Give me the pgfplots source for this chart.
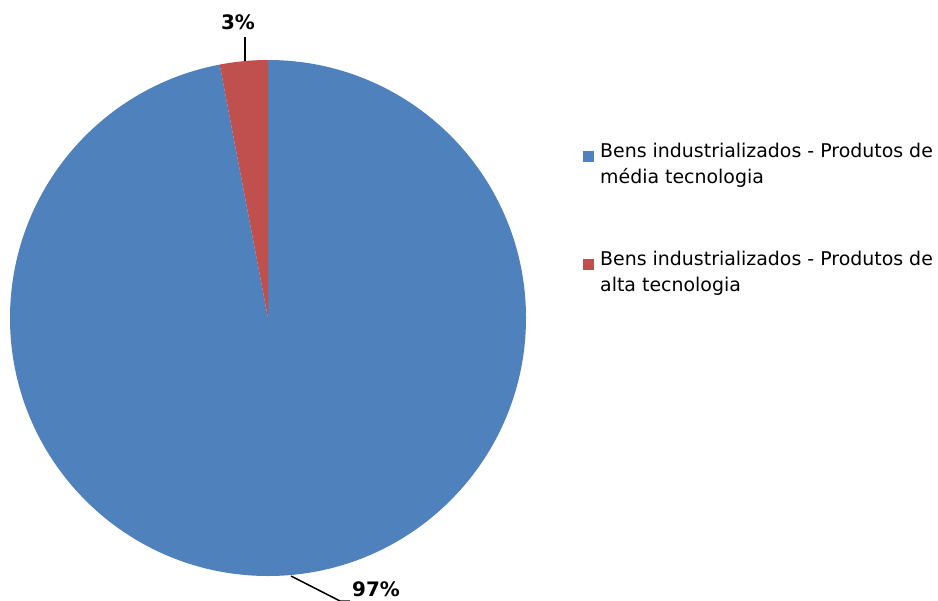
\documentclass[border=0pt]{standalone}
\usepackage{fontspec}
\setmainfont{DejaVu Sans}
\usepackage{pgfplots}
\usepackage{pgfplotstable}
\pgfplotsset{compat=1.18}

\definecolor{pieblue}{RGB}{79,129,189}
\definecolor{piered}{RGB}{192,80,77}

% share of each product group, in percent
\pgfplotstableread{
value
97
3
}\piedata

\begin{document}
\begin{tikzpicture}
\begin{axis}[
  width=938bp, height=601bp, scale only axis,
  xmin=0, xmax=938, ymin=0, ymax=601, y dir=reverse,
  hide axis, clip=false,
]
\pgfplotsextra{
  \path[use as bounding box] (axis cs:0,0) rectangle (axis cs:938,601);
  \gdef\angA{90}
  \foreach \i/\col in {0/pieblue,1/piered} {
    \pgfplotstablegetelem{\i}{value}\of\piedata
    \pgfmathsetmacro\angB{\angA-3.6*\pgfplotsretval}
    \fill[\col] (axis cs:268,318) -- ++(\angA:258bp)
      arc[start angle=\angA, end angle=\angB, radius=258bp] -- cycle;
    \global\let\angA\angB
  }
  % data labels
  \draw[black, line width=1.5bp] (axis cs:245,37) -- (axis cs:245,61);
  \node[font=\fontsize{20}{22}\selectfont\bfseries] at (axis cs:238,22) {3\%};
  \draw[black, line width=1.5bp] (axis cs:291,576) -- (axis cs:340,601) -- (axis cs:350,601);
  \node[font=\fontsize{20}{22}\selectfont\bfseries] at (axis cs:376,589) {97\%};
  % legend
  \fill[pieblue] (axis cs:583,151) rectangle (axis cs:594,162);
  \fill[piered] (axis cs:583,259) rectangle (axis cs:594,270);
  \node[anchor=north west, inner sep=0pt, align=left,
        font=\fontsize{19}{26}\selectfont] at (axis cs:600,143)
    {Bens industrializados - Produtos de\\média tecnologia};
  \node[anchor=north west, inner sep=0pt, align=left,
        font=\fontsize{19}{26}\selectfont] at (axis cs:600,251)
    {Bens industrializados - Produtos de\\alta tecnologia};
}
\end{axis}
\end{tikzpicture}
\end{document}
